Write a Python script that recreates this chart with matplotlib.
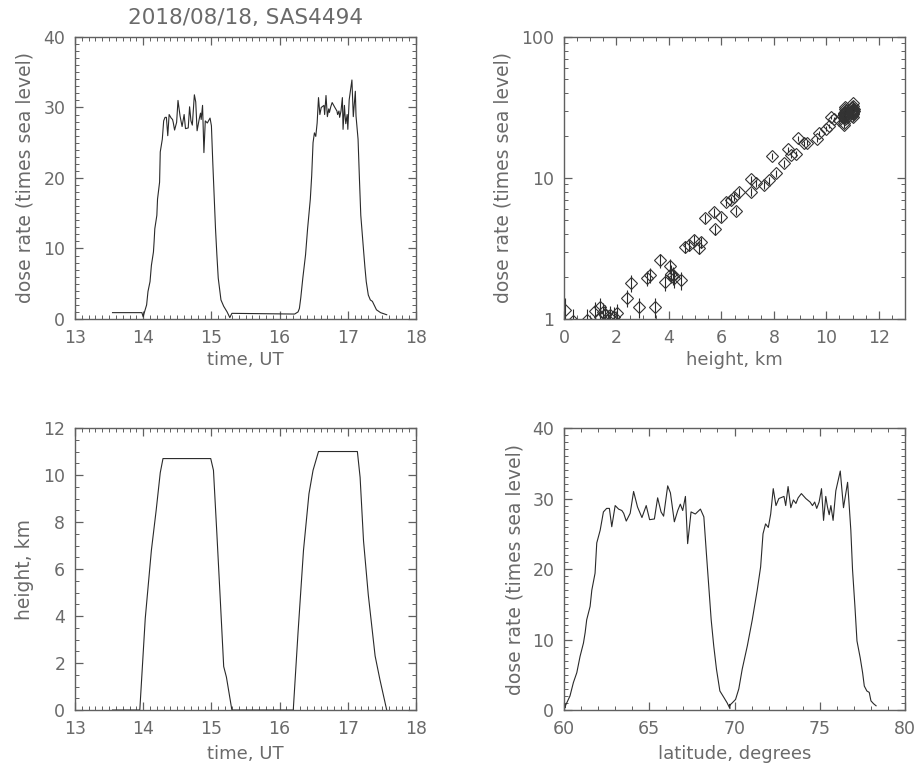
import matplotlib
matplotlib.use("Agg")
import matplotlib.pyplot as plt
from matplotlib.ticker import MultipleLocator, LogLocator, NullFormatter, FuncFormatter

# time series of the two flights (UT hours, latitude, dose rate)
time = [13.55, 13.98, 14.00, 14.01, 14.05, 14.07, 14.10, 14.12, 14.15, 14.16, 14.17, 14.20,
        14.21, 14.24, 14.25, 14.28, 14.30, 14.32, 14.34, 14.36, 14.38, 14.41, 14.43, 14.44,
        14.46, 14.49, 14.51, 14.54, 14.57, 14.60, 14.62, 14.66, 14.68, 14.70, 14.72, 14.75,
        14.77, 14.79, 14.82, 14.84, 14.85, 14.87, 14.89, 14.91, 14.94, 14.98, 15.00, 15.02,
        15.04, 15.06, 15.08, 15.10, 15.14, 15.18, 15.23, 15.27, 15.30, 16.22,
        16.27, 16.29, 16.31, 16.34, 16.38, 16.41, 16.45, 16.47, 16.49, 16.51, 16.53, 16.55,
        16.57, 16.59, 16.61, 16.65, 16.66, 16.68, 16.70, 16.72, 16.73, 16.75, 16.77, 16.81,
        16.84, 16.85, 16.87, 16.88, 16.90, 16.92, 16.93, 16.95, 16.96, 16.97, 16.99, 17.00,
        17.02, 17.06, 17.08, 17.11, 17.12, 17.15, 17.17, 17.19, 17.23, 17.25, 17.27, 17.30,
        17.33, 17.36, 17.42, 17.48, 17.57]
lat = [60.05, 60.05, 60.05, 60.10, 60.35, 60.55, 60.75, 60.94, 61.14, 61.24, 61.33, 61.53,
       61.63, 61.82, 61.92, 62.12, 62.31, 62.50, 62.66, 62.80, 63.00, 63.20, 63.39, 63.50,
       63.65, 63.88, 64.08, 64.31, 64.57, 64.82, 65.02, 65.30, 65.49, 65.69, 65.84, 66.08,
       66.24, 66.47, 66.67, 66.82, 66.96, 67.12, 67.25, 67.45, 67.70, 68.00, 68.20, 68.35,
       68.49, 68.63, 68.78, 68.94, 69.14, 69.37, 69.57, 69.73, 69.73, 69.73,
       69.86, 70.06, 70.25, 70.45, 70.75, 71.04, 71.33, 71.53, 71.67, 71.82, 71.98, 72.12,
       72.27, 72.43, 72.60, 72.90, 73.00, 73.14, 73.30, 73.45, 73.60, 73.73, 73.92, 74.18,
       74.43, 74.57, 74.70, 74.82, 74.96, 75.10, 75.22, 75.35, 75.45, 75.55, 75.65, 75.78,
       75.94, 76.20, 76.39, 76.63, 76.73, 76.82, 76.92, 77.06, 77.18, 77.37, 77.51, 77.61,
       77.76, 77.90, 78.00, 78.15, 78.30]
dose = [0.9, 0.9, 0.3, 0.7, 2.0, 3.9, 5.3, 7.6, 9.5, 11.0, 12.8, 14.7,
        17.0, 19.4, 23.7, 25.5, 28.1, 28.6, 28.6, 26.0, 29.0, 28.5, 28.3, 27.9,
        26.8, 27.9, 31.0, 28.8, 27.3, 29.0, 27.0, 27.1, 30.1, 28.1, 27.5, 31.8,
        30.8, 26.7, 28.3, 29.2, 28.3, 30.3, 23.6, 28.1, 27.8, 28.5, 27.4, 22.2,
        17.5, 12.8, 9.1, 5.8, 2.7, 1.8, 1.0, 0.2, 0.8, 0.7,
        1.0, 1.5, 3.0, 5.8, 9.1, 12.8, 17.0, 20.3, 25.0, 26.4, 25.9, 27.8,
        31.4, 29.0, 30.0, 30.3, 29.0, 31.7, 28.7, 29.8, 29.3, 30.1, 30.7, 30.0,
        29.5, 29.0, 29.5, 28.6, 29.5, 31.4, 26.9, 30.3, 28.8, 27.7, 29.0, 26.9,
        31.1, 33.9, 28.7, 32.3, 28.8, 25.5, 19.9, 14.7, 9.8, 7.4, 5.3, 3.4,
        2.7, 2.5, 1.3, 0.9, 0.6]

# flight altitude profile
alt_t = [13.55, 13.95, 14.03, 14.12, 14.19, 14.25, 14.29, 14.99, 15.03, 15.08, 15.13, 15.18,
         15.22, 15.30, 16.20, 16.27, 16.35, 16.43, 16.49, 16.57, 17.14, 17.18, 17.23, 17.30,
         17.40, 17.47, 17.57]
alt_km = [0, 0, 3.9, 6.8, 8.5, 10.1, 10.7, 10.7, 10.2, 7.5, 4.7, 1.85,
          1.4, 0, 0, 3.3, 6.8, 9.2, 10.2, 11.0, 11.0, 9.9, 7.2, 4.9,
          2.3, 1.3, 0]

# dose rate vs height, with errors
sc_h = [0.04, 0.35, 0.86, 1.19, 1.38, 1.38, 1.50, 1.57, 1.69, 1.76, 1.89, 2.01, 2.40, 2.55,
        2.84, 3.16, 3.29, 3.48, 3.67, 3.86, 4.05, 4.07, 4.15, 4.18, 4.46, 4.63, 4.75, 4.95,
        5.14, 5.23, 5.39, 5.71, 5.77, 5.97, 6.16, 6.35, 6.47, 6.55, 6.67, 7.11, 7.14, 7.30,
        7.62, 7.81, 7.94, 8.07, 8.39, 8.52, 8.64, 8.83, 8.92, 9.15, 9.28, 9.66, 9.73, 9.98,
        10.10, 10.17, 10.30, 10.49, 10.68,
        10.66, 10.70, 10.72, 10.68, 10.74, 10.70, 10.66, 10.72, 10.70, 10.68, 10.74, 10.70,
        10.72, 10.66, 10.70, 10.74, 10.68, 10.70, 10.72, 10.66,
        10.96, 11.00, 10.98, 11.02, 10.96, 11.00, 11.04, 10.98, 11.00, 10.96, 11.02, 11.00,
        10.98, 11.04, 11.00, 10.96, 11.02, 10.98]
sc_d = [1.16, 0.97, 0.98, 1.14, 1.22, 1.04, 1.12, 1.07, 0.98, 1.06, 1.04, 1.10, 1.41, 1.80,
        1.22, 1.95, 2.06, 1.22, 2.60, 1.84, 2.38, 2.10, 2.05, 1.94, 1.89, 3.26, 3.35, 3.63,
        3.17, 3.50, 5.18, 5.70, 4.32, 5.26, 6.80, 7.00, 7.36, 5.86, 7.99, 8.00, 9.80, 9.15,
        8.90, 9.60, 14.3, 10.8, 12.7, 16.0, 14.5, 14.9, 19.1, 17.6, 17.8, 18.8, 20.7, 22.4,
        23.4, 27.2, 26.0, 25.8, 23.7,
        28.6, 26.0, 29.0, 28.5, 26.8, 31.0, 28.8, 27.3, 29.0, 27.0, 30.1, 28.1,
        31.8, 26.7, 29.2, 30.3, 24.6, 28.1, 27.8, 28.5,
        29.0, 30.0, 31.7, 28.7, 29.8, 30.7, 30.0, 29.5, 28.6, 31.4, 26.9, 30.3,
        27.7, 31.1, 33.9, 28.7, 32.3, 28.8]
sc_e = [0.25, 0.20, 0.20, 0.18, 0.20, 0.20, 0.18, 0.18, 0.18, 0.18, 0.18, 0.18, 0.20, 0.25,
        0.20, 0.25, 0.25, 0.20, 0.30, 0.25, 0.30, 0.30, 0.30, 0.28, 0.28, 0.30, 0.30, 0.30,
        0.30, 0.30, 0.40, 0.40, 0.35, 0.40, 0.45, 0.45, 0.45, 0.40, 0.50, 0.50, 0.55, 0.55,
        0.55, 0.55, 0.70, 0.60, 0.65, 0.70, 0.70, 0.70, 0.80, 0.75, 0.75, 0.80, 0.85, 0.90,
        0.90, 1.00, 1.00, 1.00, 0.95] + [1.1] * 38

TXT = '#6a6a6a'
LINE = '#2a2a2a'

plt.rcParams['font.family'] = ['DejaVu Sans']
plt.rcParams['font.size'] = 12.5

fig = plt.figure(figsize=(9.18, 7.69), dpi=100)

def frame(ax):
    for s in ax.spines.values():
        s.set_color('#606060')
        s.set_linewidth(1.0)
    ax.tick_params(which='both', direction='in', top=True, right=True,
                   colors='#606060', labelcolor=TXT, labelsize=12.5)
    ax.tick_params(which='major', length=6, width=0.9, pad=7)
    ax.tick_params(which='minor', length=3, width=0.7)

W = 0.3715
H = 0.3667
L1 = 0.0817
L2 = 0.6144
B1 = 0.5852
B2 = 0.0767

# dose rate vs time
ax1 = fig.add_axes([L1, B1, W, H])
ax1.plot(time, dose, color=LINE, lw=0.8)
ax1.set_xlim(13, 18)
ax1.set_ylim(0, 40)
ax1.xaxis.set_major_locator(MultipleLocator(1))
ax1.xaxis.set_minor_locator(MultipleLocator(0.1))
ax1.yaxis.set_major_locator(MultipleLocator(10))
ax1.yaxis.set_minor_locator(MultipleLocator(1))
ax1.set_xlabel('time, UT', color=TXT, fontsize=13)
ax1.set_ylabel('dose rate (times sea level)', color=TXT, fontsize=13.5)
ax1.xaxis.set_label_coords(0.5, -0.115)
ax1.yaxis.set_label_coords(-0.12, 0.5)
frame(ax1)
fig.text(L1 + W / 2, 0.977, '2018/08/18, SAS4494', ha='center', va='center',
         color=TXT, fontsize=15.5)

# dose rate vs height
ax2 = fig.add_axes([L2, B1, W, H])
ax2.errorbar(sc_h, sc_d, yerr=sc_e, fmt='none', ecolor=LINE, elinewidth=0.8, capsize=0)
ax2.plot(sc_h, sc_d, linestyle='none', marker='D', markersize=6.5, markerfacecolor='none',
         markeredgecolor='#333333', markeredgewidth=0.8)
ax2.set_yscale('log')
ax2.set_xlim(0, 13)
ax2.set_ylim(1, 100)
ax2.xaxis.set_major_locator(MultipleLocator(2))
ax2.xaxis.set_minor_locator(MultipleLocator(0.5))
ax2.yaxis.set_major_locator(LogLocator(base=10))
ax2.yaxis.set_minor_locator(LogLocator(base=10, subs=range(2, 10)))
ax2.yaxis.set_major_formatter(FuncFormatter(lambda v, p: '%g' % v))
ax2.yaxis.set_minor_formatter(NullFormatter())
ax2.set_xlabel('height, km', color=TXT, fontsize=13)
ax2.set_ylabel('dose rate (times sea level)', color=TXT, fontsize=13.5)
ax2.xaxis.set_label_coords(0.5, -0.115)
ax2.yaxis.set_label_coords(-0.15, 0.5)
frame(ax2)

# height vs time
ax3 = fig.add_axes([L1, B2, W, H])
ax3.plot(alt_t, alt_km, color=LINE, lw=0.8)
ax3.set_xlim(13, 18)
ax3.set_ylim(0, 12)
ax3.xaxis.set_major_locator(MultipleLocator(1))
ax3.xaxis.set_minor_locator(MultipleLocator(0.1))
ax3.yaxis.set_major_locator(MultipleLocator(2))
ax3.yaxis.set_minor_locator(MultipleLocator(0.5))
ax3.set_xlabel('time, UT', color=TXT, fontsize=13)
ax3.set_ylabel('height, km', color=TXT, fontsize=13.5)
ax3.xaxis.set_label_coords(0.5, -0.125)
ax3.yaxis.set_label_coords(-0.12, 0.5)
frame(ax3)

# dose rate vs latitude
ax4 = fig.add_axes([L2, B2, W, H])
ax4.plot(lat, dose, color=LINE, lw=0.8)
ax4.set_xlim(60, 80)
ax4.set_ylim(0, 40)
ax4.xaxis.set_major_locator(MultipleLocator(5))
ax4.xaxis.set_minor_locator(MultipleLocator(1))
ax4.yaxis.set_major_locator(MultipleLocator(10))
ax4.yaxis.set_minor_locator(MultipleLocator(1))
ax4.set_xlabel('latitude, degrees', color=TXT, fontsize=13)
ax4.set_ylabel('dose rate (times sea level)', color=TXT, fontsize=13.5)
ax4.xaxis.set_label_coords(0.5, -0.125)
ax4.yaxis.set_label_coords(-0.115, 0.5)
frame(ax4)

fig.savefig('out.png', dpi=100, facecolor='white')
